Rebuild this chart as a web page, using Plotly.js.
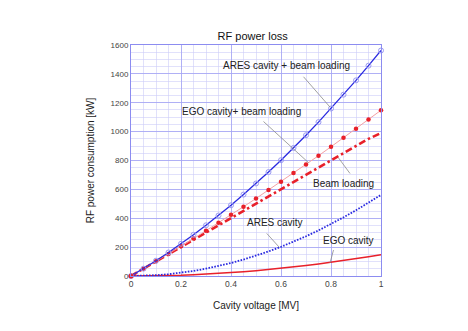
<!DOCTYPE html>
<html>
<head>
<meta charset="utf-8">
<script src="https://cdn.plot.ly/plotly-3.0.1.min.js"></script>
<style>
  html, body { margin: 0; padding: 0; background: #fff; }
  #chartDiv { width: 468px; height: 331px; }
</style>
</head>
<body>
<div id="chartDiv"></div>
<script>
// cavity voltage [MV], one point every 0.05
var voltage = [0, 0.05, 0.1, 0.15, 0.2, 0.25, 0.3, 0.35, 0.4, 0.45, 0.5,
               0.55, 0.6, 0.65, 0.7, 0.75, 0.8, 0.85, 0.9, 0.95, 1];
// RF power [kW]
var aresBeam = [0, 51, 106, 163, 223, 285, 351, 419, 490, 564, 641,
                720, 802, 887, 975, 1066, 1160, 1256, 1355, 1457, 1562];
var egoBeam = [0, 50, 102, 153, 206, 259, 313, 368, 424, 480, 537,
               595, 653, 713, 772, 833, 895, 957, 1020, 1084, 1148];
var beamLoading = [0, 50, 100, 150, 200, 250, 300, 350, 400, 450, 500,
                   550, 600, 650, 700, 750, 800, 850, 900, 950, 990];
var aresCavity = [0, 1.4, 5.6, 12.6, 22.5, 35, 51, 69, 90, 114, 140,
                  170, 202, 237, 275, 316, 360, 406, 455, 507, 562];
var egoCavity = [0, 0.4, 1.5, 3.3, 5.9, 9.3, 13.3, 18.1, 23.7, 30, 37,
                 44.8, 53.3, 62.5, 72.5, 83.3, 94.7, 107, 120, 133.6, 148];

var xTicks = [0, 0.2, 0.4, 0.6, 0.8, 1];
var xTickText = ['0', '0.2', '0.4', '0.6', '0.8', '1'];
var yTicks = [0, 200, 400, 600, 800, 1000, 1200, 1400, 1600];

// labels: text, text position, leader line start and end
var labels = [
    {text: 'ARES cavity + beam loading', tx: 0.62, ty: 1455, px: 0.796, py: 1170, sx: 0.69, sy: 1380},
    {text: 'EGO cavity+ beam loading', tx: 0.44, ty: 1140, px: 0.71, py: 785, sx: 0.53, sy: 1070},
    {text: 'Beam loading', tx: 0.85, ty: 640, px: 0.83, py: 818, sx: 0.876, sy: 710},
    {text: 'ARES cavity', tx: 0.575, ty: 370, px: 0.593, py: 199, sx: 0.543, sy: 295},
    {text: 'EGO cavity', tx: 0.87, ty: 248, px: 0.796, py: 90, sx: 0.81, sy: 180}
];

var data = [];
data.push({
    x: voltage, y: egoCavity, mode: 'lines', type: 'scatter', name: 'EGO cavity',
    line: {color: '#e8202a', width: 1.5}
});
data.push({
    x: voltage, y: aresCavity, mode: 'lines', type: 'scatter', name: 'ARES cavity',
    line: {color: '#2a2ae0', width: 1.8, dash: '1.6px,1.4px'}
});
data.push({
    x: voltage, y: beamLoading, mode: 'lines', type: 'scatter', name: 'Beam loading',
    line: {color: '#e8202a', width: 2.6, dash: '7px,3px,2.5px,3px'}
});
data.push({
    x: voltage, y: egoBeam, mode: 'lines+markers', type: 'scatter', name: 'EGO cavity+ beam loading',
    line: {color: '#f4a0a4', width: 1},
    marker: {color: '#e8202a', size: 4.5, symbol: 'circle'},
    cliponaxis: false
});
data.push({
    x: voltage, y: aresBeam, mode: 'lines+markers', type: 'scatter', name: 'ARES cavity + beam loading',
    line: {color: '#2a2ae0', width: 1.3},
    marker: {color: '#9a9af2', size: 5, symbol: 'circle-open', line: {width: 1}},
    cliponaxis: false
});
data.push({
    x: [0], y: [0], mode: 'markers', type: 'scatter', showlegend: false,
    marker: {color: '#e8202a', size: 5}, cliponaxis: false
});

var annotations = [];
var shapes = [];
labels.forEach(function (l) {
    annotations.push({
        x: l.tx, y: l.ty, xref: 'x', yref: 'y', text: l.text, showarrow: false,
        font: {family: 'Liberation Sans, Arial, sans-serif', size: 10, color: '#222'}
    });
    shapes.push({
        type: 'line', xref: 'x', yref: 'y', x0: l.sx, y0: l.sy, x1: l.px, y1: l.py,
        line: {color: '#8a8a8a', width: 0.8}
    });
});

var layout = {
    width: 468, height: 331,
    margin: {l: 131, r: 87, t: 45, b: 55},
    paper_bgcolor: '#fff', plot_bgcolor: '#fff',
    showlegend: false,
    font: {family: 'Liberation Sans, Arial, sans-serif', color: '#333'},
    title: {
        text: 'RF power loss', x: 0.54, xanchor: 'center', y: 0.89, yanchor: 'middle',
        font: {size: 11, color: '#111'}
    },
    xaxis: {
        range: [0, 1], tickvals: xTicks, ticktext: xTickText,
        showgrid: true, gridcolor: '#a4a4f4', gridwidth: 0.8,
        minor: {dtick: 0.05, showgrid: true, gridcolor: '#cdcdf8', gridwidth: 0.6},
        zeroline: false, showline: true, linecolor: '#8c8cf0', linewidth: 1, mirror: true,
        ticks: '', tickfont: {size: 8.5, color: '#444'},
        title: {text: 'Cavity voltage [MV]', font: {size: 10, color: '#222'}, standoff: 13}
    },
    yaxis: {
        range: [0, 1600], tickvals: yTicks,
        showgrid: true, gridcolor: '#a4a4f4', gridwidth: 0.8,
        minor: {dtick: 50, showgrid: true, gridcolor: '#cdcdf8', gridwidth: 0.6},
        zeroline: false, showline: true, linecolor: '#8c8cf0', linewidth: 1, mirror: true,
        ticks: '', tickfont: {size: 8, color: '#444'},
        title: {text: 'RF power consumption [kW]', font: {size: 10, color: '#222'}, standoff: 14}
    },
    annotations: annotations,
    shapes: shapes
};

Plotly.newPlot('chartDiv', data, layout, {staticPlot: true});
</script>
</body>
</html>
